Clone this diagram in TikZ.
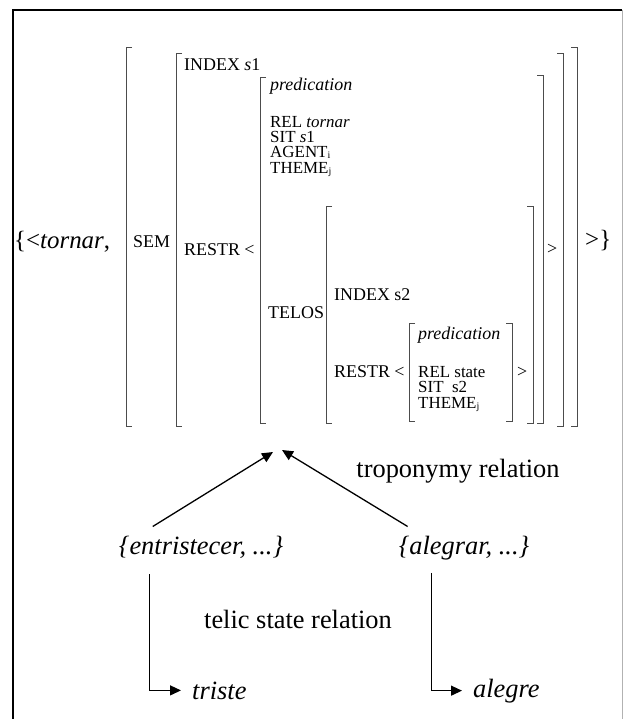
\documentclass[tikz,border=0pt]{standalone}
\usepackage{fontspec}
\setmainfont{Liberation Serif}
\usepackage{tikz}
\usetikzlibrary{arrows.meta}

\begin{document}
\begin{tikzpicture}[
  brk/.style={draw=black!70,line width=0.8bp},
  arr/.style={-{Triangle[length=11bp,width=10bp]},line width=1.3bp},
  big/.style={inner sep=0pt,anchor=base west,font=\fontsize{25}{30}\selectfont},
  sm/.style={inner sep=0pt,anchor=base west,font=\fontsize{18}{18}\selectfont},
  stack/.style={sm,align=left,font=\fontsize{17}{15.3}\selectfont},
  lab/.style={inner sep=0pt,anchor=base,font=\fontsize{26.5}{30}\selectfont}]

\useasboundingbox (0bp,0bp) rectangle (623bp,-719bp);
\draw [line width=2bp] (12.5bp,-719bp) -- (12.5bp,-10bp) -- (622bp,-10bp);
\draw [black!30,line width=1bp] (622bp,-10bp) -- (622bp,-719bp);

% feature structure
\node (lex) at (14bp,-248bp)[big] {\{<\textit{tornar},};
\node (sem) at (133bp,-247bp)[sm] {SEM};
\node (idx1) at (184bp,-70bp)[sm] {INDEX \textit{s}1};
\node (rst1) at (184bp,-255bp)[sm] {RESTR <};
\node (prd1) at (270bp,-90bp)[sm] {\textit{predication}};
\node (args1) at (270bp,-173bp)[stack] {REL \textit{tornar}\\SIT \textit{s}1\\AGENT{\fontsize{10}{10}\selectfont\raisebox{-1bp}{i}}\\THEME{\fontsize{10}{10}\selectfont\raisebox{-1bp}{j}}};
\node (tel) at (268bp,-318bp)[sm] {TELOS};
\node (idx2) at (334bp,-300bp)[sm] {INDEX s2};
\node (rst2) at (334bp,-377bp)[sm] {RESTR <};
\node (prd2) at (418bp,-339bp)[sm] {\textit{predication}};
\node (args2) at (418bp,-408bp)[stack] {REL state\\SIT\ \ s2\\THEME{\fontsize{10}{10}\selectfont\raisebox{-1bp}{j}}};
\node (gt2) at (517bp,-377bp)[sm] {>};
\node (gt1) at (547bp,-254bp)[sm] {>};
\node (gt0) at (585bp,-247bp)[big] {>\}};

% brackets
\draw [brk] (132bp,-47bp) -- (126bp,-47bp) -- (126bp,-426bp) -- (132bp,-426bp);
\draw [brk] (182bp,-53bp) -- (176bp,-53bp) -- (176bp,-426bp) -- (182bp,-426bp);
\draw [brk] (266bp,-77bp) -- (260bp,-77bp) -- (260bp,-423bp) -- (266bp,-423bp);
\draw [brk] (332bp,-206bp) -- (326bp,-206bp) -- (326bp,-423bp) -- (332bp,-423bp);
\draw [brk] (415bp,-323bp) -- (409bp,-323bp) -- (409bp,-421bp) -- (415bp,-421bp);
\draw [brk] (506bp,-323bp) -- (512bp,-323bp) -- (512bp,-421bp) -- (506bp,-421bp);
\draw [brk] (527bp,-206bp) -- (533bp,-206bp) -- (533bp,-423bp) -- (527bp,-423bp);
\draw [brk] (537bp,-75bp) -- (543bp,-75bp) -- (543bp,-423bp) -- (537bp,-423bp);
\draw [brk] (557bp,-53bp) -- (563bp,-53bp) -- (563bp,-426bp) -- (557bp,-426bp);
\draw [brk] (571bp,-47bp) -- (577bp,-47bp) -- (577bp,-426bp) -- (571bp,-426bp);

% relations
\node (ent) at (201bp,-554bp)[lab] {\textit{\{entristecer, ...\}}};
\node (aleg) at (464bp,-554bp)[lab] {\textit{\{alegrar, ...\}}};
\node (tropo) at (458bp,-477bp)[lab] {troponymy relation};
\node (telic) at (298bp,-628bp)[lab] {telic state relation};
\node (tri) at (192bp,-699bp)[lab,anchor=base west] {\textit{triste}};
\node (ale) at (473bp,-697bp)[lab,anchor=base west] {\textit{alegre}};
\coordinate (tipL) at (273bp,-452bp);
\coordinate (tipR) at (282bp,-450bp);
\draw [arr] ([xshift=34bp,yshift=9bp]ent.north west) -- (tipL);
\draw [arr] ([xshift=9bp,yshift=9bp]aleg.north west) -- (tipR);
\draw [arr] ([xshift=31bp,yshift=-16bp]ent.south west) |- ([xshift=-11bp]tri.west);
\draw [arr] ([xshift=33bp,yshift=-13bp]aleg.south west) |- ([xshift=-11bp]ale.west);
\end{tikzpicture}
\end{document}
